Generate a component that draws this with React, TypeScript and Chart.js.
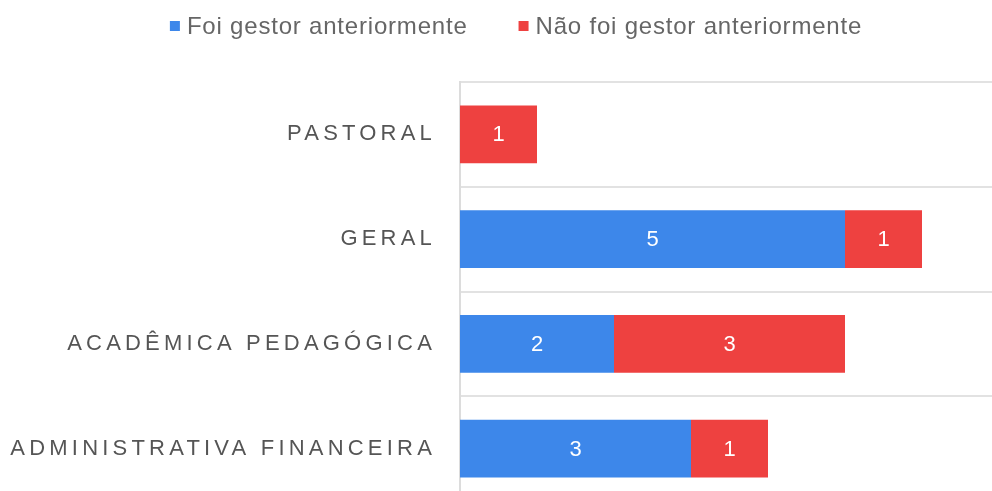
import React, { useEffect, useRef } from 'react';
import { Chart, registerables, CategoryScale } from 'chart.js';

Chart.register(...registerables);

// ---- data ----
const categories = ['PASTORAL', 'GERAL', 'ACADÊMICA PEDAGÓGICA', 'ADMINISTRATIVA FINANCEIRA'];
const seriesNames = ['Foi gestor anteriormente', 'Não foi gestor anteriormente'];
const foiGestor = [0, 5, 2, 3];
const naoFoiGestor = [1, 1, 3, 1];
const xMin = 0;
const xMax = 7;

// ---- styles ----
const FONT = "'Liberation Sans', Arial, sans-serif";
const BLUE = '#3d87ea';
const RED = '#ee4140';
const CANVAS_W = 1036;
const CANVAS_H = 510;
const TICK_SPACING = '4.2px';

class SpacedCategoryScale extends CategoryScale {
  static id = 'spacedCategory';
  drawLabels(chartArea: any) {
    const ctx: any = (this as any).ctx;
    ctx.save();
    ctx.letterSpacing = TICK_SPACING;
    // @ts-ignore
    super.drawLabels(chartArea);
    ctx.restore();
  }
}
Chart.register(SpacedCategoryScale as any);

const valueLabels = {
  id: 'valueLabels',
  afterDatasetsDraw(chart: any) {
    const ctx = chart.ctx;
    ctx.save();
    ctx.font = `22px ${FONT}`;
    ctx.fillStyle = '#ffffff';
    ctx.textAlign = 'center';
    ctx.textBaseline = 'middle';
    chart.data.datasets.forEach((ds: any, di: number) => {
      const meta = chart.getDatasetMeta(di);
      meta.data.forEach((el: any, i: number) => {
        const v = ds.data[i];
        if (!v) return;
        const p = el.getProps(['x', 'y', 'base'], true);
        ctx.fillText(String(v), (p.x + p.base) / 2, p.y + 1);
      });
    });
    ctx.restore();
  },
};

const topLegend = {
  id: 'topLegend',
  afterDraw(chart: any) {
    const ctx = chart.ctx;
    ctx.save();
    ctx.font = `24px ${FONT}`;
    ctx.letterSpacing = '0.8px';
    ctx.textBaseline = 'middle';
    ctx.textAlign = 'left';
    const box = 10;
    const gap = 7;
    const itemGap = 51;
    const items = chart.data.datasets.map((ds: any) => ({ text: ds.label, color: ds.backgroundColor }));
    const widths = items.map((it: any) => ctx.measureText(it.text).width);
    let total = 0;
    widths.forEach((w: number, i: number) => {
      total += box + gap + w + (i > 0 ? itemGap : 0);
    });
    let x = chart.width / 2 - total / 2 - 2;
    const y = 26;
    items.forEach((it: any, i: number) => {
      ctx.fillStyle = it.color;
      ctx.fillRect(x, y - box / 2, box, box);
      ctx.fillStyle = '#666666';
      ctx.fillText(it.text, x + box + gap, y + 1);
      x += box + gap + widths[i] + itemGap;
    });
    ctx.restore();
  },
};

export default function App() {
  const ref = useRef<HTMLCanvasElement | null>(null);

  useEffect(() => {
    if (!ref.current) return;
    const chart = new Chart(ref.current, {
      type: 'bar',
      data: {
        labels: categories,
        datasets: [
          { label: seriesNames[0], data: foiGestor, backgroundColor: BLUE, borderWidth: 0, barPercentage: 0.55, categoryPercentage: 1 },
          { label: seriesNames[1], data: naoFoiGestor, backgroundColor: RED, borderWidth: 0, barPercentage: 0.55, categoryPercentage: 1 },
        ],
      },
      options: {
        indexAxis: 'y',
        responsive: false,
        animation: false,
        devicePixelRatio: 1,
        layout: { padding: 0 },
        plugins: {
          legend: { display: false },
          tooltip: { enabled: false },
        },
        scales: {
          x: { type: 'linear', stacked: true, min: xMin, max: xMax, display: false },
          y: {
            type: 'spacedCategory' as any,
            stacked: true,
            offset: true,
            grid: { offset: true, color: '#e2e2e2', lineWidth: 2, drawTicks: false },
            border: { color: '#dcdcdc', width: 2 },
            ticks: { color: '#555555', font: { family: FONT, size: 22 }, padding: 24 },
            afterFit: (s: any) => {
              s.width = 460;
              s.paddingTop = 82;
              s.paddingBottom = CANVAS_H - 501;
              s.paddingRight = CANVAS_W - 999;
              s.paddingLeft = 0;
            },
          } as any,
        },
      } as any,
      plugins: [valueLabels, topLegend],
    });
    return () => chart.destroy();
  }, []);

  return (
    <div style={{ position: 'fixed', left: 0, top: 0, width: 992, height: 491, overflow: 'hidden', background: '#fff' }}>
      <canvas ref={ref} width={CANVAS_W} height={CANVAS_H} style={{ width: CANVAS_W, height: CANVAS_H, display: 'block' }} />
    </div>
  );
}
